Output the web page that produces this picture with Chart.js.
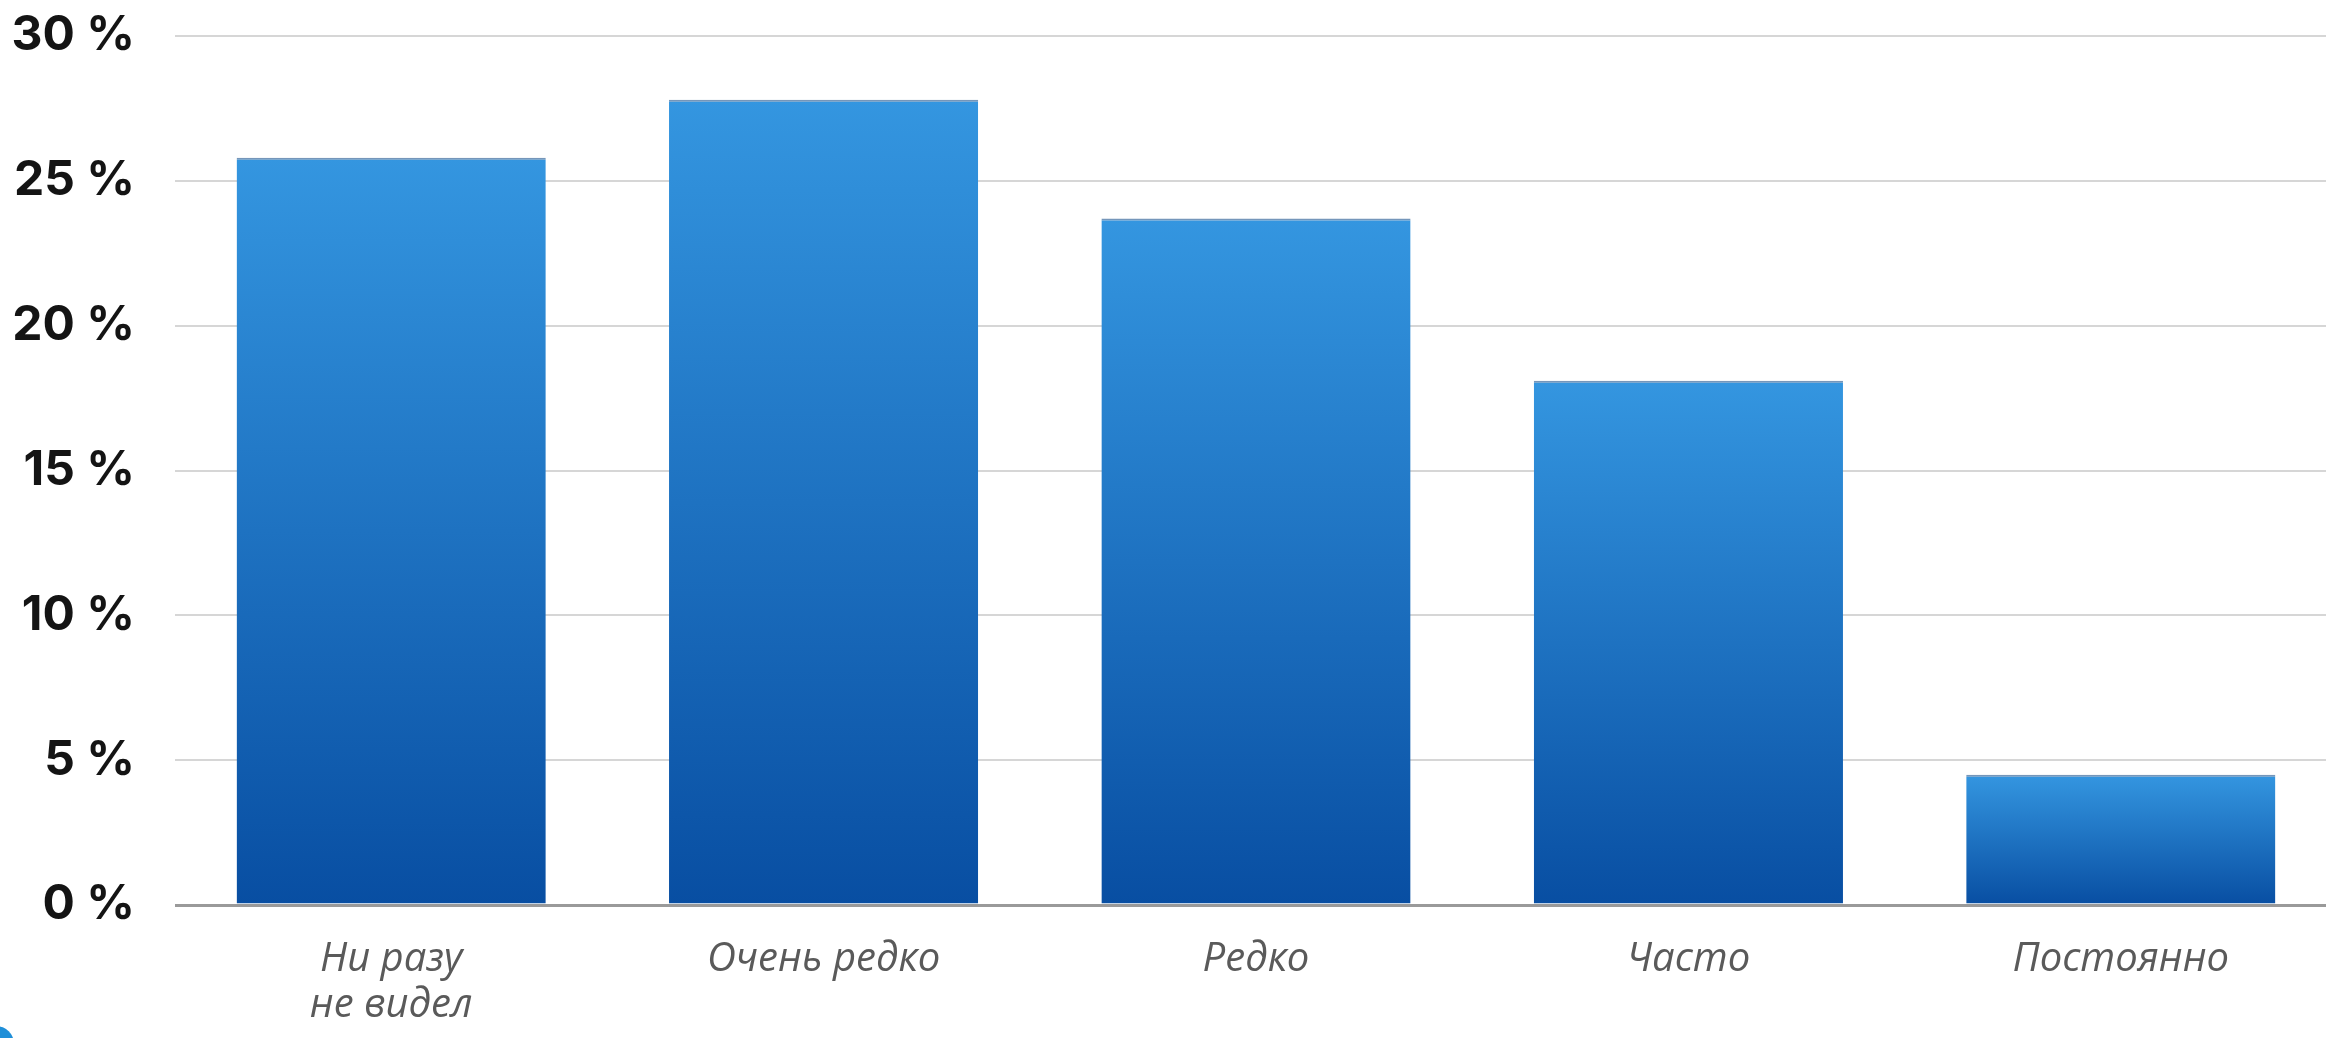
<!DOCTYPE html>
<html lang="ru">
<head>
<meta charset="utf-8">
<title>Частота</title>
<script src="https://cdn.jsdelivr.net/npm/chart.js@4.4.1/dist/chart.umd.min.js"></script>
<style>
  html, body { margin: 0; padding: 0; background: #fff; overflow: hidden; }
  #wrap { position: relative; width: 2326px; height: 1038px; overflow: hidden; }
  #grafica { position: absolute; left: 0; top: 0; }
  .logo { position: absolute; left: -22px; top: 1026px; width: 36px; height: 36px;
          border-radius: 50%; background: #1f8fd8; }
</style>
</head>
<body>
<div id="wrap">
  <canvas id="grafica" width="2337" height="1038"></canvas>
  <div class="logo"></div>
</div>
<script>
// Категории и значения (%)
const categorias = [['Ни разу', 'не видел'], 'Очень редко', 'Редко', 'Часто', 'Постоянно'];
const valores = [25.8, 27.8, 23.7, 18.1, 4.5];
const ticksY = [0, 5, 10, 15, 20, 25, 30];

const AZUL_ARRIBA = 'rgb(52, 150, 224)';
const AZUL_ABAJO = 'rgb(8, 78, 162)';

function degradado(ctx) {
    const chart = ctx.chart;
    if (!chart.chartArea || ctx.raw === undefined) return AZUL_ARRIBA;
    const y = chart.scales.y;
    const g = chart.ctx.createLinearGradient(0, y.getPixelForValue(ctx.raw), 0, y.getPixelForValue(0));
    g.addColorStop(0, AZUL_ARRIBA);
    g.addColorStop(1, AZUL_ABAJO);
    return g;
}

function dibujar() {
    const ctx = document.getElementById('grafica').getContext('2d');
    new Chart(ctx, {
        type: 'bar',
        data: {
            labels: categorias,
            datasets: [{
                data: valores,
                backgroundColor: degradado,
                borderColor: 'rgba(25, 80, 140, 0.6)',
                borderWidth: { top: 2, bottom: 0, left: 0, right: 0 },
                borderSkipped: false,
                categoryPercentage: 1,
                barPercentage: 0.715
            }]
        },
        options: {
            responsive: false,
            animation: false,
            layout: { padding: { top: 36, right: 0, left: 0, bottom: 0 } },
            plugins: { legend: { display: false }, tooltip: { enabled: false } },
            scales: {
                x: {
                    grid: { display: false },
                    border: { display: false },
                    ticks: {
                        padding: 24,
                        color: '#5a5a5a',
                        font: { family: 'Open Sans', style: 'italic', size: 40, lineHeight: 1.15 }
                    },
                    afterFit: s => { s.height = 133; }
                },
                y: {
                    min: 0,
                    max: 30,
                    afterBuildTicks: s => { s.ticks = ticksY.map(v => ({ value: v })); },
                    grid: {
                        drawTicks: false,
                        color: c => c.tick && c.tick.value === 0 ? '#9a9a9a' : '#d6d6d6',
                        lineWidth: c => c.tick && c.tick.value === 0 ? 3 : 2
                    },
                    border: { display: false },
                    ticks: {
                        padding: 40,
                        color: '#141414',
                        font: { family: 'Inter', weight: 'bold', size: 48 },
                        callback: v => v + ' %'
                    },
                    afterFit: s => {
                        s.width = 175;
                        s.paddingTop = 0;
                        s.paddingBottom = 0;
                    }
                }
            }
        }
    });
}

document.addEventListener('DOMContentLoaded', dibujar);
</script>
</body>
</html>
